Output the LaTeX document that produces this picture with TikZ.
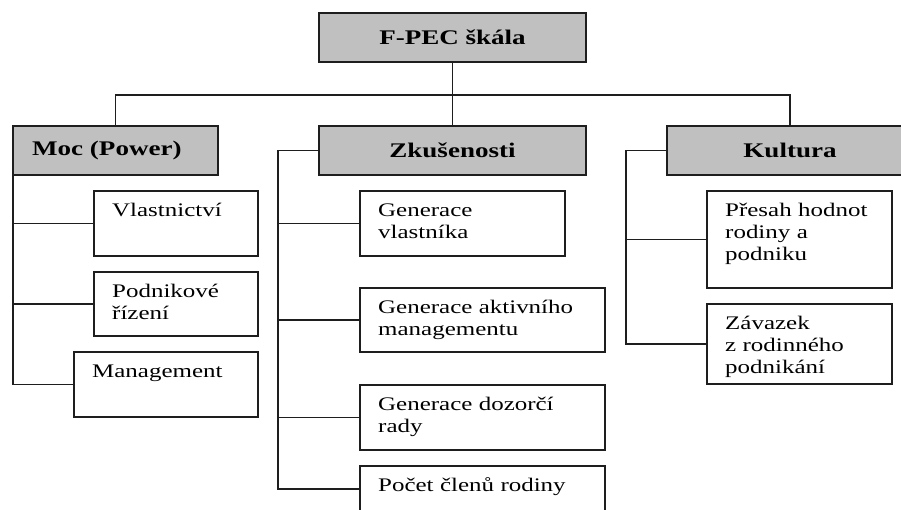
\documentclass[tikz,border=0pt]{standalone}
\usepackage{fontspec}
\setmainfont{Liberation Serif}[FakeStretch=1.3]
\usetikzlibrary{calc}
\definecolor{hgray}{RGB}{192,192,192}
\definecolor{lncol}{RGB}{30,30,30}
\begin{document}
\begin{tikzpicture}[x=1pt,y=-1pt,
  hdr/.style={draw=lncol, line width=1.8pt, fill=hgray, inner sep=0pt, outer sep=0pt, anchor=north west, minimum height=49pt, font=\fontsize{20.8}{24}\selectfont\bfseries},
  item/.style={draw=lncol, line width=1.8pt, fill=white, inner sep=0pt, outer sep=0pt, anchor=north west},
  itxt/.style={inner sep=0pt, anchor=base west, align=left, text width=185pt, font=\fontsize{19.2}{22}\selectfont},
  conn/.style={draw=lncol, line width=1.6pt}]
\useasboundingbox (0,0) rectangle (901,509);
\clip (0,0) rectangle (901,509);
% headers
\node[hdr, minimum width=267pt] (fpec) at (319,13) {F-PEC škála};
\node[hdr, minimum width=205pt] (moc) at (13,126) {};
\node[inner sep=0pt, anchor=west, font=\fontsize{20.8}{24}\selectfont\bfseries] (mocT) at ($(moc.west)+(19,0)$) {Moc (Power)};
\node[hdr, minimum width=267pt] (zk) at (319,126) {Zkušenosti};
\node[hdr, minimum width=246pt] (kul) at (667,126) {Kultura};
% Moc items
\node[item, minimum width=164pt, minimum height=65pt] (v1) at (94,191) {};
\node[itxt] (v1t) at ($(v1.north west)+(18,25.5)$) {Vlastnictví};
\node[item, minimum width=164pt, minimum height=64pt] (v2) at (94,272) {};
\node[itxt] (v2t) at ($(v2.north west)+(18,25.5)$) {Podnikové\\řízení};
\node[item, minimum width=184pt, minimum height=65pt] (v3) at (74,352) {};
\node[itxt] (v3t) at ($(v3.north west)+(18,25.5)$) {Management};
% Zkusenosti items
\node[item, minimum width=205pt, minimum height=65pt] (g1) at (360,191) {};
\node[itxt] (g1t) at ($(g1.north west)+(18,25.5)$) {Generace\\vlastníka};
\node[item, minimum width=245pt, minimum height=64pt] (g2) at (360,288) {};
\node[itxt, text width=225pt] (g2t) at ($(g2.north west)+(18,25.5)$) {Generace aktivního\\managementu};
\node[item, minimum width=245pt, minimum height=65pt] (g3) at (360,385) {};
\node[itxt, text width=225pt] (g3t) at ($(g3.north west)+(18,25.5)$) {Generace dozorčí\\rady};
\node[item, minimum width=245pt, minimum height=46pt] (g4) at (360,466) {};
\node[itxt, text width=225pt] (g4t) at ($(g4.north west)+(18,25.5)$) {Počet členů rodiny};
% Kultura items
\node[item, minimum width=185pt, minimum height=97pt] (k1) at (707,191) {};
\node[itxt, text width=165pt] (k1t) at ($(k1.north west)+(18,25.5)$) {Přesah hodnot\\rodiny a\\podniku};
\node[item, minimum width=185pt, minimum height=80pt] (k2) at (707,304) {};
\node[itxt, text width=165pt] (k2t) at ($(k2.north west)+(18,25.5)$) {Závazek\\z rodinného\\podnikání};
% connectors
\coordinate (bar) at ($(fpec.south)+(0,33)$);
\draw[conn] (fpec.south) -- (zk.north);
\draw[conn] (moc.north) |- (bar) -| (kul.north);
\draw[conn] (moc.south west) |- (v3.west);
\draw[conn] (v1.west) -- (v1.west -| moc.west);
\draw[conn] (v2.west) -- (v2.west -| moc.west);
\coordinate (zspine) at ($(zk.west)+(-41,0)$);
\draw[conn] (zk.west) -- (zspine) |- (g4.west);
\draw[conn] (g1.west) -- (g1.west -| zspine);
\draw[conn] (g2.west) -- (g2.west -| zspine);
\draw[conn] (g3.west) -- (g3.west -| zspine);
\coordinate (kspine) at ($(kul.west)+(-41,0)$);
\draw[conn] (kul.west) -- (kspine) |- (k2.west);
\draw[conn] (k1.west) -- (k1.west -| kspine);
\end{tikzpicture}
\end{document}
